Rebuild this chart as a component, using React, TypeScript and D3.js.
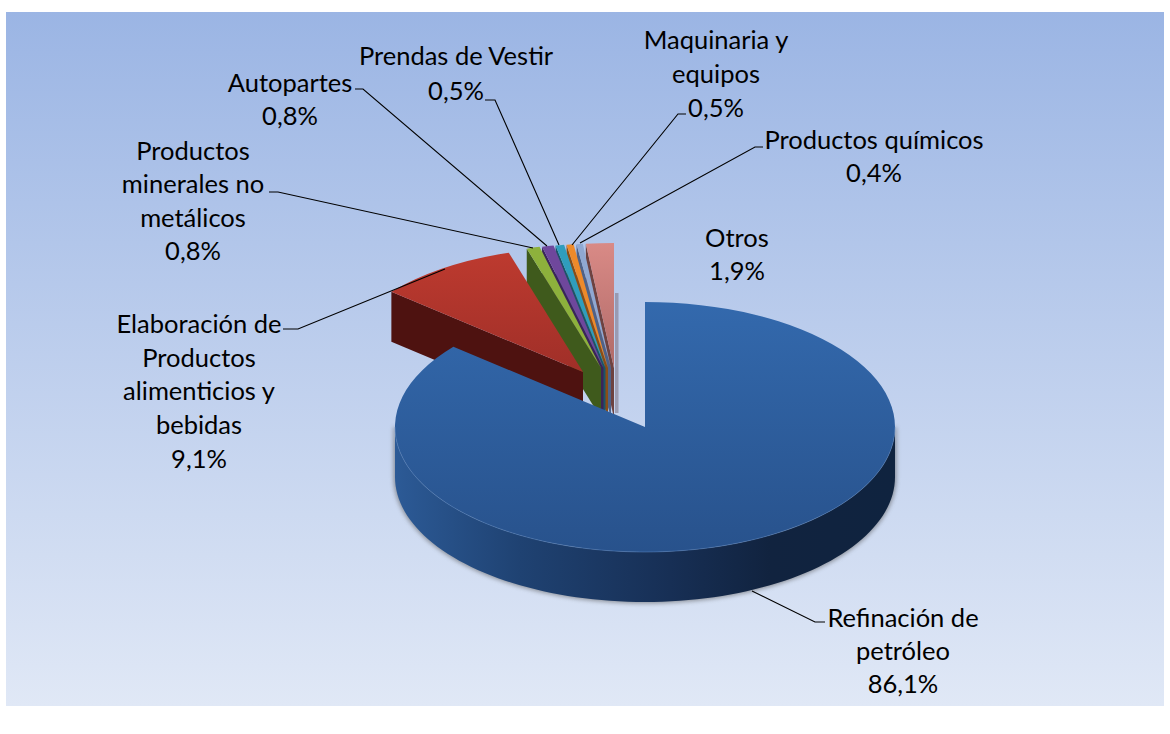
import React from "react";
import * as d3 from "d3";

const categories = ["Refinación de petróleo","Elaboración de Productos alimenticios y bebidas","Productos minerales no metálicos","Autopartes","Prendas de Vestir","Maquinaria y equipos","Productos químicos","Otros"];
const drawnShares = [86.1, 9.1, 0.85, 0.75, 0.55, 0.45, 0.4, 1.8];
const sliceTop = ["url(#blueTop)","url(#redTop)","#8db13c","#6f479c","#2f9dbd","#ee8a2a","#8fa8d2","url(#pinkTop)"];
const sliceCut = ["#1c3a63","#4e1210","#3f5a1c","#3b2459","#1b5468","#8a4d16","#4f6288","#6e4240"];
const apexX = [645,583,601,603.5,605.5,608,611,614];
const apexY = [427,372,368,368,368,368,368,368];
const RX = 250, RY = 125, DEPTH = 50;

const labelLines = [
  ["Refinación de","petróleo","86,1%"],
  ["Elaboración de","Productos","alimenticios y","bebidas","9,1%"],
  ["Productos","minerales no","metálicos","0,8%"],
  ["Autopartes","0,8%"],
  ["Prendas de Vestir","0,5%"],
  ["Maquinaria y","equipos","0,5%"],
  ["Productos químicos","0,4%"],
  ["Otros","1,9%"],
];
const labelX = [903,199,193,290,456,716,874,737];
const labelY = [617,323,150,82,55,39,139,237];
const labelGap = [33,33.7,33.3,33,35,34,33,33];
const leaders: number[][][] = [
  [[825,622],[815,622],[752,591]],
  [[283,329],[298,329],[445,269]],
  [[269,192],[278,192],[533,248]],
  [[355,89],[363,89],[547,246]],
  [[485,100],[495,100],[559,245]],
  [[686,114],[678,114],[572,245]],
  [[763,147],[755,147],[580,243]],
];

const pie = d3.pie<number>().sort(null).value(d => d);
const slices = pie(drawnShares);
const arcGen = d3.arc<d3.PieArcDatum<number>>().innerRadius(0).outerRadius(RX);
const pt = (i: number, a: number, dy = 0): [number, number] => [apexX[i] + RX * Math.sin(a), apexY[i] - RY * Math.cos(a) + dy];

const line = d3.line();

function frontWall(i: number) {
  const angles = d3.range(91).map(k => Math.PI / 2 + (k / 90) * Math.PI);
  const top = angles.map(a => pt(i, a));
  const bottom = angles.slice().reverse().map(a => pt(i, a, DEPTH));
  return line([...top, ...bottom])! + "Z";
}
function rim(i: number) {
  const angles = d3.range(91).map(k => Math.PI / 2 + (k / 90) * Math.PI);
  return line(angles.map(a => pt(i, a)))!;
}
function cutFace(i: number, a: number) {
  const p = pt(i, a);
  const apex: [number, number] = [apexX[i], apexY[i]];
  return line([p, apex, [apex[0], apex[1] + DEPTH], [p[0], p[1] + DEPTH]])! + "Z";
}

export default function App() {
  const order = [7,6,5,4,3,2,1,0];
  const last = apexX[7];
  return (
    <svg width={1170} height={734} style={{ position: "absolute", left: 0, top: 0, background: "#fff" }}>
      <defs>
        <linearGradient id="bg" x1="0" y1="0" x2="0" y2="1">
          <stop offset="0" stopColor="#9bb5e4" />
          <stop offset="1" stopColor="#e0e8f6" />
        </linearGradient>
        <linearGradient id="blueTop" x1="0" y1="0" x2="0" y2="1">
          <stop offset="0" stopColor="#3369ad" />
          <stop offset="1" stopColor="#28528c" />
        </linearGradient>
        <linearGradient id="redTop" x1="0" y1="0" x2="0" y2="1">
          <stop offset="0" stopColor="#bd3a2f" />
          <stop offset="1" stopColor="#a02f28" />
        </linearGradient>
        <linearGradient id="pinkTop" x1="0" y1="0" x2="0" y2="1">
          <stop offset="0" stopColor="#d98a86" />
          <stop offset="1" stopColor="#b06a68" />
        </linearGradient>
        <linearGradient id="blueWall" x1="0" y1="0" x2="1" y2="0">
          <stop offset="0" stopColor="#2c5a96" />
          <stop offset="0.25" stopColor="#1f4272" />
          <stop offset="0.55" stopColor="#172f55" />
          <stop offset="0.75" stopColor="#11233f" />
          <stop offset="1" stopColor="#0f233f" />
        </linearGradient>
        <filter id="soft" x="-10%" y="-10%" width="120%" height="120%">
          <feGaussianBlur stdDeviation="2" />
        </filter>
      </defs>
      <rect x={6} y={12} width={1158} height={694} fill="url(#bg)" />
      <rect x={last + 1} y={293} width={3.5} height={120} fill="#7a6a78" opacity={0.5} />
      <path d={frontWall(0)} fill="#555" opacity={0.55} stroke="#555" strokeWidth={3} filter="url(#soft)" />
      {order.map(i => (
        <g key={categories[i]}>
          {i === 0 ? (
            <path d={frontWall(0)} fill="url(#blueWall)" />
          ) : (
            <path d={cutFace(i, slices[i].startAngle)} fill={sliceCut[i]} />
          )}
          <path
            d={arcGen(slices[i])!}
            transform={`translate(${apexX[i]},${apexY[i]}) scale(1,${RY / RX})`}
            fill={sliceTop[i]}
          />
        </g>
      ))}
      <path d={rim(0)} fill="none" stroke="#5f8cc8" strokeWidth={1} opacity={0.45} />
      {leaders.map((pts, i) => (
        <path key={i} d={line(pts as [number, number][])!} fill="none" stroke="#000" strokeWidth={1.1} />
      ))}
      {labelLines.map((ls, i) => (
        <text key={i} textAnchor="middle" fontFamily="Lato, sans-serif" fontSize={25.5} fill="#000" dominantBaseline="central">
          {ls.map((t, k) => (
            <tspan key={k} x={labelX[i]} y={labelY[i] + k * labelGap[i]}>{t}</tspan>
          ))}
        </text>
      ))}
    </svg>
  );
}
